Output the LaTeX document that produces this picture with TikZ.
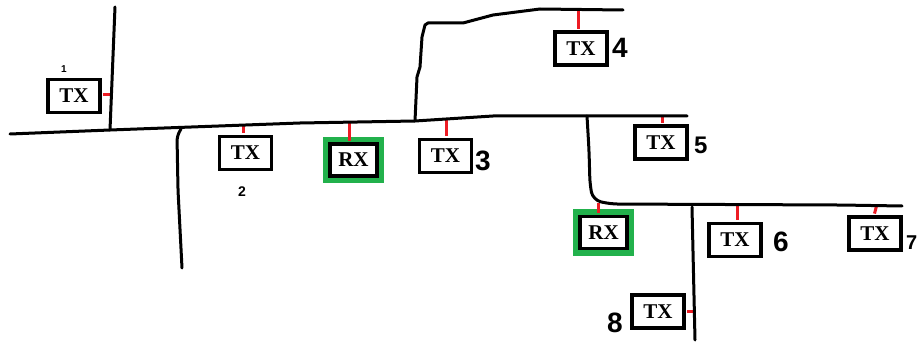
\documentclass[tikz,border=0pt]{standalone}
\usepackage{fontspec}
\newfontfamily\txfont{Liberation Serif}
\newfontfamily\handfont{Liberation Sans}
\definecolor{paintgreen}{RGB}{34,177,76}
\definecolor{paintred}{RGB}{237,28,36}
\tikzset{
  bus/.style={line width=3pt, line join=round, line cap=round},
  stub/.style={line width=3pt, paintred},
  txbox/.style={draw, line width=3.8pt, fill=white, minimum width=52pt, minimum height=33pt, inner sep=0pt,
    font=\txfont\bfseries\fontsize{21}{21}\selectfont},
  rxbox/.style={txbox, minimum width=47pt, minimum height=32pt,
    preaction={draw=paintgreen, line width=14pt}},
  hand/.style={font=\handfont\bfseries\fontsize{28}{28}\selectfont, inner sep=0pt},
}
\begin{document}
\begin{tikzpicture}[x=1pt,y=-1pt]
\useasboundingbox (0,0) rectangle (919,342);
% nodes
\node[txbox] (tx1) at (74,96) {TX};
\node[txbox] (tx2) at (245.5,153) {TX};
\node[rxbox] (rx1) at (353.5,160) {RX};
\node[txbox] (tx3) at (445.5,156) {TX};
\node[txbox] (tx4) at (581,48.5) {TX};
\node[txbox] (tx5) at (661,142.5) {TX};
\node[rxbox] (rx2) at (603.5,232.5) {RX};
\node[txbox] (tx6) at (735,240) {TX};
\node[txbox] (tx7) at (875,233.5) {TX};
\node[txbox] (tx8) at (658,311.5) {TX};
% bus coordinates
\coordinate (b1) at (111.5,95);
\coordinate (b2) at (243,125);
\coordinate (r1) at (349,122);
\coordinate (b3) at (446,119);
\coordinate (b4) at (578,9);
\coordinate (b5) at (662,116);
\coordinate (r2) at (598,203);
\coordinate (b6) at (737,205);
\coordinate (b7) at (876.5,206);
\coordinate (b8) at (693,311);
% stubs
\draw[stub] (b1) -- ([xshift=1.5pt]tx1.east |- b1);
\draw[stub] (b2) -- ([yshift=1.5pt]b2 |- tx2.north);
\draw[stub] (r1) -- ([yshift=1.5pt]r1 |- rx1.north);
\draw[stub] (b3) -- ([yshift=1.5pt]b3 |- tx3.north);
\draw[stub] (b4) -- ([yshift=1.5pt]b4 |- tx4.north);
\draw[stub] (b5) -- ([yshift=1.5pt]b5 |- tx5.north);
\draw[stub] (r2) -- ([yshift=1.5pt]r2 |- rx2.north);
\draw[stub] (b6) -- ([yshift=1.5pt]b6 |- tx6.north);
\draw[stub] (b7) -- ([xshift=-2pt,yshift=1.5pt]b7 |- tx7.north);
\draw[stub] (b8) -- ([xshift=1.5pt]tx8.east |- b8);
% bus lines
\draw[bus] (10,134) -- (110,130) -- (300,123) -- (415,121) -- (493,116) -- (687,116);
\draw[bus] (115,7) -- (110,130);
\draw[bus, rounded corners=5pt] (181,129) -- (177,136) -- (178,190) -- (182,268);
\draw[bus] (415,121) -- (417,77) -- (420,67) -- (422,37) -- (425,25) -- (428,23) -- (463,23) -- (493,15) -- (540,9) -- (623,10);
\draw[bus, rounded corners=8pt] (587,116) -- (589,150) -- (590,185) -- (593,200) -- (610,204) -- (840,205) -- (902,206);
\draw[bus] (692,207) -- (695,340);
% labels
\node[font=\handfont\bfseries\fontsize{10}{10}\selectfont, inner sep=0pt] (l1) at (64,69) {1};
\node[font=\handfont\bfseries\fontsize{14}{10}\selectfont, inner sep=0pt] (l2) at (242,192) {2};
\node[hand, anchor=west] (l3) at (475,161) {3};
\node[hand, anchor=west] (l4) at (612,48) {4};
\node[hand, anchor=west, font=\handfont\bfseries\fontsize{24}{24}\selectfont] (l5) at (694,145) {5};
\node[hand, anchor=west] (l6) at (773,242) {6};
\node[hand, anchor=west, font=\handfont\bfseries\fontsize{20}{20}\selectfont] (l7) at (906,243) {7};
\node[hand, anchor=east] (l8) at (623,323) {8};
\end{tikzpicture}
\end{document}
